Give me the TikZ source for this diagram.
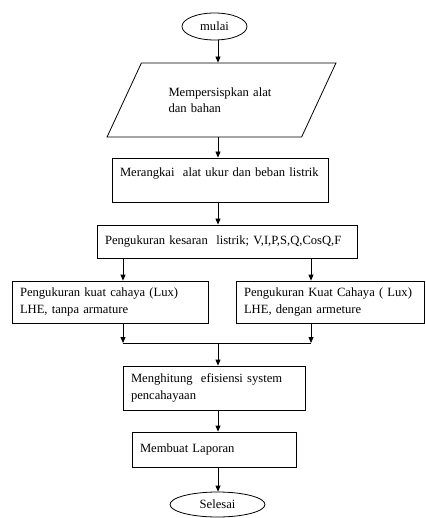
\documentclass[tikz,border=0pt]{standalone}
\usepackage{fontspec}
\setmainfont{Liberation Serif}
\usepackage{tikz}
\usetikzlibrary{shapes,arrows,positioning,calc,arrows.meta}

\begin{document}
\begin{tikzpicture}[x=1pt, y=-1pt,
        font=\fontsize{12.6}{16.5}\selectfont,
        box/.style={draw, rectangle, align=left, inner xsep=8pt, inner ysep=0pt, text width=#1},
        term/.style={draw, ellipse, inner sep=0pt},
        arrow/.style={-{Triangle[length=6pt,width=5pt]}},
        every path/.style={line width=0.8pt}
    ]
        \useasboundingbox (0,0) rectangle (425,518);
        \coordinate (spine) at (218,0);
        \coordinate (leftx) at (123,0);
        \coordinate (rightx) at (311,0);

        \node (mulai) [term, minimum width=65pt, minimum height=27pt] at (214.5,26.5) {mulai};
        \node (siap) [draw, trapezium, trapezium left angle=53, trapezium right angle=127,
            trapezium stretches=true, minimum width=229pt, minimum height=74pt,
            text width=106pt, align=left] at (221.5,100) {Mempersispkan alat\\dan bahan};
        \node (rangkai) [box=200pt, minimum height=44pt] at (220,180) {Merangkai~~alat ukur dan beban listrik\\\mbox{}};
        \node (ukur) [box=244pt, minimum height=33pt] at (227,241.5) {Pengukuran kesaran~~listrik; V,I,P,S,Q,CosQ,F};
        \node (luxa) [box=180pt, minimum height=42pt] at (110,302) {Pengukuran kuat cahaya (Lux)\\LHE, tanpa armature};
        \node (luxb) [box=172pt, minimum height=42pt] at (330,302) {Pengukuran Kuat Cahaya ( Lux)\\LHE, dengan armeture};
        \node (hitung) [box=166pt, minimum height=44pt] at (214,388) {Menghitung~~efisiensi system\\pencahayaan};
        \node (lapor) [box=148pt, minimum height=35pt] at (214,449.5) {Membuat Laporan};
        \node (selesai) [term, minimum width=95pt, minimum height=25pt] at (217.5,504.5) {Selesai};

        % main line
        \draw [arrow] (spine |- mulai.south) -- (spine |- siap.north);
        \draw [arrow] (spine |- siap.south) -- (spine |- rangkai.north);
        \draw [arrow] (spine |- rangkai.south) -- (spine |- ukur.north);

        % branches
        \draw [arrow] (leftx |- ukur.south) -- (leftx |- luxa.north);
        \draw [arrow] (rightx |- ukur.south) -- (rightx |- luxb.north);
        \coordinate (join) at (218,343);
        \draw [arrow] (leftx |- luxa.south) -- (leftx |- join);
        \draw [arrow] (rightx |- luxb.south) -- (rightx |- join);
        \draw (leftx |- join) -- (rightx |- join);
        \draw [arrow] (join) -- (spine |- hitung.north);

        \draw [arrow] (spine |- hitung.south) -- (spine |- lapor.north);
        \draw [arrow] (spine |- lapor.south) -- (spine |- selesai.north);
    \end{tikzpicture}
\end{document}
